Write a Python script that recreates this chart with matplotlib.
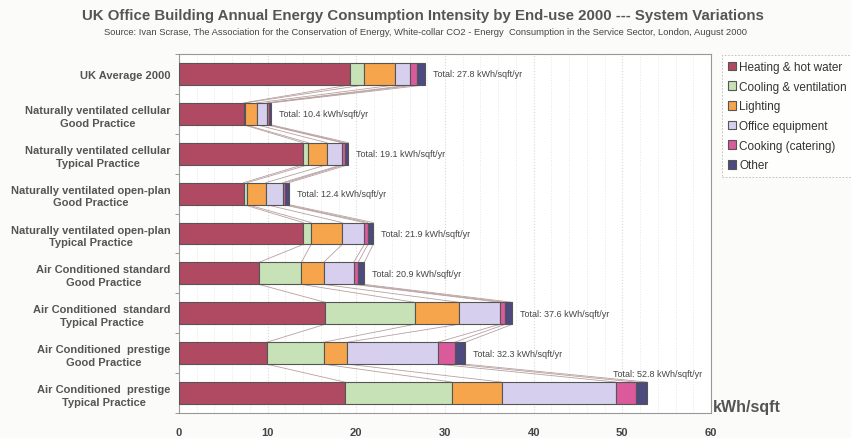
import matplotlib
matplotlib.use("Agg")
import matplotlib.pyplot as plt
import numpy as np

plt.rcParams['font.family'] = ['Liberation Sans', 'DejaVu Sans']

categories = [
    "UK Average 2000",
    "Naturally ventilated cellular\nGood Practice",
    "Naturally ventilated cellular\nTypical Practice",
    "Naturally ventilated open-plan\nGood Practice",
    "Naturally ventilated open-plan\nTypical Practice",
    "Air Conditioned standard\nGood Practice",
    "Air Conditioned  standard\nTypical Practice",
    "Air Conditioned  prestige\nGood Practice",
    "Air Conditioned  prestige\nTypical Practice",
]

series_names = ["Heating & hot water", "Cooling & ventilation", "Lighting",
                "Office equipment", "Cooking (catering)", "Other"]

heating = [19.3, 7.3, 14.0, 7.3, 14.0, 9.0, 16.5, 9.9, 18.7]
cooling = [1.6, 0.2, 0.6, 0.4, 0.9, 4.8, 10.1, 6.4, 12.1]
lighting = [3.5, 1.3, 2.1, 2.1, 3.5, 2.5, 5.0, 2.7, 5.6]
office = [1.7, 1.1, 1.7, 1.9, 2.5, 3.4, 4.6, 10.2, 12.9]
cooking = [0.7, 0.2, 0.3, 0.3, 0.4, 0.5, 0.6, 1.9, 2.2]
other = [1.0, 0.3, 0.4, 0.4, 0.6, 0.7, 0.8, 1.2, 1.3]
totals = [27.8, 10.4, 19.1, 12.4, 21.9, 20.9, 37.6, 32.3, 52.8]

x_ticks = [0, 10, 20, 30, 40, 50, 60]

colors = ["#b04a62", "#c6e2b6", "#f6a54c", "#d6d0ee", "#da5a9c", "#4c4a7e"]

series = [heating, cooling, lighting, office, cooking, other]

fig = plt.figure(figsize=(8.51, 4.39), dpi=100, facecolor="#fbfbf9")
ax = fig.add_axes([0.2103, 0.0569, 0.6252, 0.8178], facecolor="white")

y = np.arange(len(categories))
bar_h = 0.55
left = np.zeros(len(categories))
bounds = [left.copy()]
for vals, col, name in zip(series, colors, series_names):
    vals = np.array(vals)
    ax.barh(y, vals, left=left, height=bar_h, color=col, edgecolor="#555555",
            linewidth=0.8, label=name, zorder=3)
    left = left + vals
    bounds.append(left.copy())

# series lines joining the segment boundaries of consecutive bars
for b in bounds[1:]:
    for i in range(len(categories) - 1):
        ax.plot([b[i], b[i + 1]], [y[i] + bar_h / 2, y[i + 1] - bar_h / 2],
                color="#b8a0a0", linewidth=0.6, zorder=2)

# total labels
for i, t in enumerate(totals):
    txt = f"Total: {t} kWh/sqft/yr"
    if i == len(totals) - 1:
        ax.text(t - 3.8, y[i] - bar_h / 2 - 0.22, txt, fontsize=6.5,
                color="#444444", ha="left", va="center", zorder=4)
    else:
        ax.text(t + 0.9, y[i], txt, fontsize=6.5, color="#444444",
                ha="left", va="center", zorder=4)

ax.set_xlim(0, 60)
ax.set_ylim(len(categories) - 0.5, -0.5)

# gridlines
ax.set_xticks(x_ticks)
ax.set_xticks(np.arange(0, 61, 2), minor=True)
ax.grid(True, axis="x", which="minor", color="#e6e6e6", linestyle=":", linewidth=0.7, zorder=0)
ax.grid(True, axis="x", which="major", color="#d8d8d8", linestyle=":", linewidth=0.8, zorder=0)

ax.set_xticklabels([str(v) for v in x_ticks], fontsize=8, fontweight="bold", color="#444444")
ax.tick_params(axis="x", which="both", length=0, pad=10)

ax.set_yticks(y)
ax.set_yticklabels(categories, fontsize=8, fontweight="bold", color="#555555")
for lbl in ax.get_yticklabels():
    lbl.set_multialignment("center")
    lbl.set_linespacing(1.35)
ax.set_yticks(np.arange(-0.5, len(categories), 1), minor=True)
ax.tick_params(axis="y", which="major", length=0, pad=6)
ax.tick_params(axis="y", which="minor", length=3, color="#888888")

for s in ax.spines.values():
    s.set_color("#999999")
    s.set_linewidth(0.8)

ax.text(1.003, 0.017, "kWh/sqft", transform=ax.transAxes, fontsize=11.5,
        fontweight="bold", color="#555555", ha="left", va="center")

leg = fig.legend(loc="upper left", bbox_to_anchor=(0.848, 0.872),
                 bbox_transform=fig.transFigure, borderaxespad=0, fontsize=8.5,
                 frameon=True, fancybox=False, handlelength=0.75, handleheight=0.75,
                 handletextpad=0.25, labelspacing=0.65, borderpad=0.5,
                 labelcolor="#333333")
leg.get_frame().set_edgecolor("#aaaaaa")
leg.get_frame().set_linestyle((0, (2, 2)))
leg.get_frame().set_linewidth(0.6)

fig.text(0.497, 0.9636, "UK Office Building Annual Energy Consumption Intensity by End-use 2000 --- System Variations",
         fontsize=10.8, fontweight="bold", color="#555555", ha="center", va="center")
fig.text(0.5, 0.927, "Source: Ivan Scrase, The Association for the Conservation of Energy, White-collar CO2 - Energy  Consumption in the Service Sector, London, August 2000",
         fontsize=6.75, color="#444444", ha="center", va="center")

fig.savefig("out.png", dpi=100, facecolor=fig.get_facecolor())
